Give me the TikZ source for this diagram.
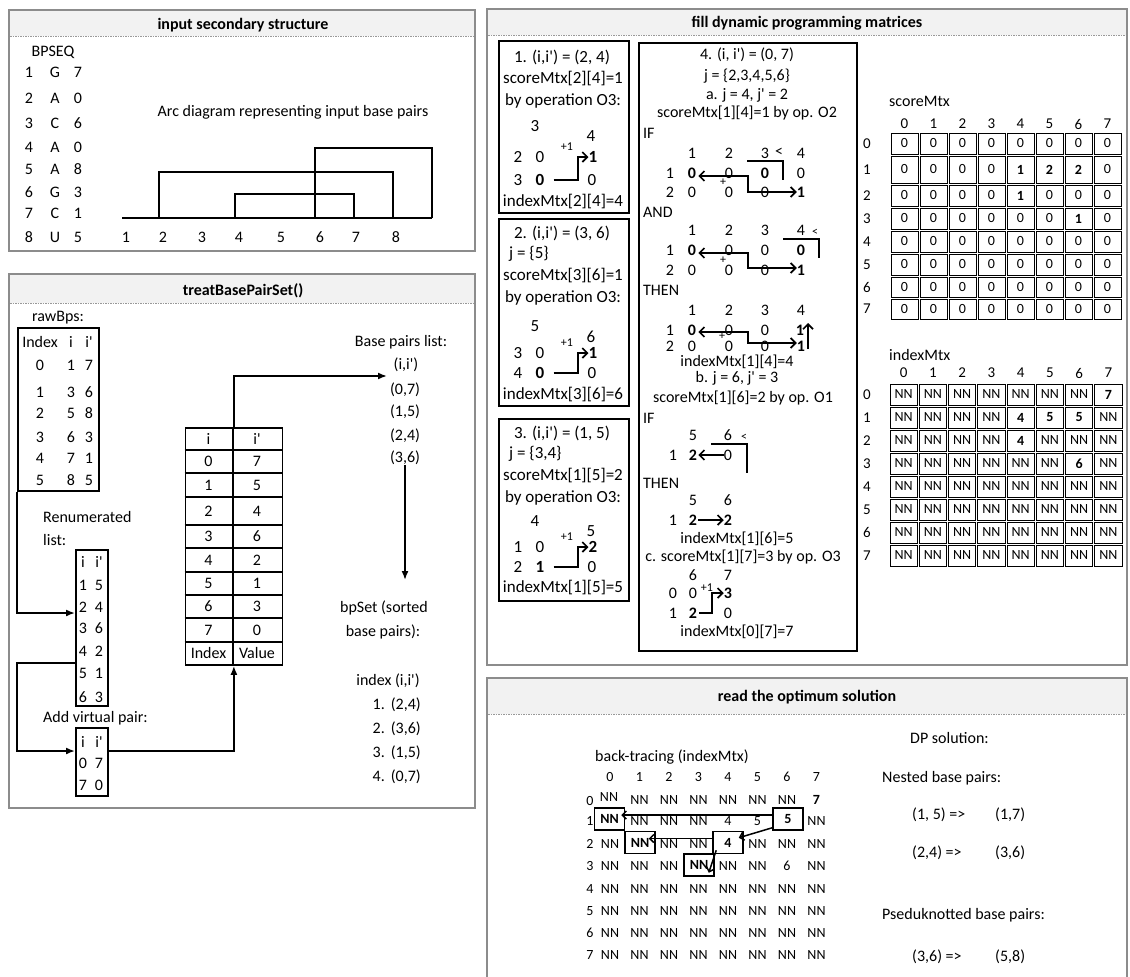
\documentclass[tikz,border=0pt]{standalone}
\usepackage{fontspec}
\setmainfont{Carlito}[Ligatures=TeXOff]
\usetikzlibrary{arrows.meta}
\begin{document}
\begin{tikzpicture}[x=1pt,y=-1pt,
 T/.style={font=\fontsize{16}{19}\selectfont, inner sep=0pt},
 TB/.style={font=\fontsize{16}{19}\selectfont\bfseries, inner sep=0pt},
 U/.style={font=\fontsize{17}{20}\selectfont, inner sep=0pt},
 UB/.style={font=\fontsize{17}{20}\selectfont\bfseries, inner sep=0pt},
 S/.style={font=\fontsize{14}{16}\selectfont, inner sep=0pt},
 SB/.style={font=\fontsize{14}{16}\selectfont\bfseries, inner sep=0pt},
 L/.style={font=\fontsize{15}{17}\selectfont, inner sep=0pt},
 tn/.style={font=\fontsize{12}{13}\selectfont, inner sep=0pt},
 ttl/.style={font=\fontsize{16}{19}\selectfont\bfseries, inner sep=0pt},
 frm/.style={draw=black!45, line width=2.4pt},
 tbar/.style={fill=black!5},
 sepl/.style={draw=black!40, line width=1pt, dash pattern=on 1.5pt off 1pt},
 bx/.style={draw, line width=2pt, inner sep=0pt, anchor=north west},
 ln/.style={line width=1.7pt},
 af/.style={line width=1.7pt, -{Latex[length=9pt,width=7pt]}},
 ab/.style={line width=1.7pt, -{Straight Barb[length=5pt,width=10pt]}},
 abb/.style={line width=1.7pt, {Straight Barb[length=5pt,width=10pt]}-{Straight Barb[length=5pt,width=10pt]}},
 abt/.style={line width=1.5pt, -{Straight Barb[length=4pt,width=8pt]}},
 cell/.style={draw, line width=0.8pt, inner sep=0pt, font=\fontsize{14}{16}\selectfont},
 btb/.style={draw, line width=1.5pt, inner sep=0pt, minimum width=30pt, minimum height=22pt, font=\fontsize{14}{16}\selectfont\bfseries},
]
\useasboundingbox (0,0) rectangle (1130,977);
\fill[white] (0,0) rectangle (1130,977);

%================ Panel 1 =================
\fill[tbar] (10,11) rectangle (474,36);
\draw[sepl] (10,36) -- (474,36);
\draw[frm] (9,10) rectangle (475,251);
\node[ttl] (p1t) at (243,25) {input secondary structure};
\node[T] (bpseq) at (53,52) {BPSEQ};
\foreach \n/\b/\p/\y in {1/G/7/72,2/A/0/98,3/C/6/123,4/A/0/147,5/A/8/169,6/G/3/192,7/C/1/213,8/U/5/237}{
  \node[T] (bn\n) at (29,\y) {\n};
  \node[T] (bb\n) at (55,\y) {\b};
  \node[T] (bp\n) at (78,\y) {\p};
}
\node[T] (arct) at (293,112) {Arc diagram representing input base pairs};
\draw[ln] (122,218) -- (432,218);
\draw[ln] (159,218) |- (393,172) -- (393,218);
\draw[ln] (235,218) |- (354,194) -- (354,218);
\draw[ln] (315,218) |- (432,148) -- (432,218);
\foreach \n/\x in {1/126,2/163,3/202,4/239,5/281,6/320,7/356,8/396}{
  \node[T] (al\n) at (\x,237) {\n};
}

%================ Panel 2 =================
\fill[tbar] (10,275) rectangle (474,303);
\draw[sepl] (10,303) -- (474,303);
\draw[frm] (9,274) rectangle (475,808);
\node[ttl] (p2t) at (243,291) {treatBasePairSet()};

\node[T] (rawl) at (58,318) {rawBps:};
\node[bx, line width=1.8pt, minimum width=81pt, minimum height=163pt] (raw) at (17,327) {};
\node[T] (rh0) at (40,342) {Index};
\node[T] (rh1) at (71,342) {i};
\node[T] (rh2) at (89,342) {i'};
\foreach \k/\a/\b/\y in {0/1/7/365,1/3/6/392,2/5/8/413,3/6/3/437,4/7/1/458,5/8/5/480}{
  \node[T] (rk\k) at (40,\y) {\k};
  \node[T] (ri\k) at (71,\y) {\a};
  \node[T] (rj\k) at (89,\y) {\b};
}

\node[T, anchor=west] (renl1) at (43,517) {Renumerated};
\node[T, anchor=west] (renl2) at (43,540) {list:};
\node[bx, line width=1.8pt, minimum width=32pt, minimum height=156pt] (ren) at (75,549) {};
\node[T] (nh1) at (83,562) {i};
\node[T] (nh2) at (99,562) {i'};
\foreach \k/\a/\b/\y in {1/1/5/585,2/2/4/607,3/3/6/628,4/4/2/651,5/5/1/673,6/6/3/697}{
  \node[T] (ni\k) at (83,\y) {\a};
  \node[T] (nj\k) at (99,\y) {\b};
}

\node[T, anchor=west] (virl) at (43,718) {Add virtual pair:};
\node[bx, line width=1.8pt, minimum width=32pt, minimum height=68pt] (vir) at (75,727) {};
\node[T] (vh1) at (83,742) {i};
\node[T] (vh2) at (99,742) {i'};
\node[T] (vi1) at (83,763) {0};
\node[T] (vj1) at (99,763) {7};
\node[T] (vi2) at (83,785) {7};
\node[T] (vj2) at (99,785) {0};

\coordinate (c1) at (75,613);
\coordinate (c2) at (75,663);
\coordinate (c3) at (75,751);
\draw[af] (raw.south west) |- (c1);
\draw[af] (c2) -- (17,663) |- (c3);

% big table
\node[bx, line width=1.8pt, minimum width=97pt, minimum height=237pt] (tab) at (184.5,427) {};
\foreach \yy in {450,473,497,525,548,572,595,618,642}{
  \draw[line width=1.8pt] (184.5,\yy) -- (281.5,\yy);
}
\draw[line width=1.8pt] (233,427) -- (233,664);
\foreach \k/\a/\b/\y in {h/i/i'/438.5,0/0/7/461.5,1/1/5/485,2/2/4/511,3/3/6/536.5,4/4/2/560,5/5/1/583.5,6/6/3/606.5,7/7/0/630,f/Index/Value/653}{
  \node[T] (ta\k) at (208.5,\y) {\a};
  \node[T] (tb\k) at (257,\y) {\b};
}
\draw[af] (vir.east |- c3) -| (tab.south);

\node[T] (bl0) at (401,342) {Base pairs list:};
\node[T] (bl1) at (406,365) {(i,i')};
\node[T] (bl2) at (405,390) {(0,7)};
\node[T] (bl3) at (405,412) {(1,5)};
\node[T] (bl4) at (405,436) {(2,4)};
\node[T] (bl5) at (405,458) {(3,6)};
\coordinate (c5) at (387,376);
\draw[af] (tab.north) |- (c5);
\coordinate (c6) at (405,580);
\draw[af] (bl5.south) -- (c6);
\node[T] (bs1) at (384,608) {bpSet (sorted};
\node[T] (bs2) at (383,632) {base pairs):};
\node[T] (bs3) at (388,681) {index (i,i')};
\node[T, anchor=east] (bs4) at (421,705) {1.\hspace{6pt}(2,4)};
\node[T, anchor=east] (bs5) at (421,729) {2.\hspace{6pt}(3,6)};
\node[T, anchor=east] (bs6) at (421,753) {3.\hspace{6pt}(1,5)};
\node[T, anchor=east] (bs7) at (421,777) {4.\hspace{6pt}(0,7)};

%================ Panel 3 =================
\fill[tbar] (488,10) rectangle (1126,35);
\draw[sepl] (488,35) -- (1126,35);
\draw[frm] (487,9) rectangle (1127,665);
\node[ttl] (p3t) at (807,23) {fill dynamic programming matrices};

% box 1
\node[bx, minimum width=130pt, minimum height=172pt] (box1) at (498,40) {};
\node[U] (b1t) at (562,57) {1. (i,i') = (2, 4)};
\node[U] (b1s) at (563,79) {scoreMtx[2][4]=1};
\node[U] (b1o3) at (563,101) {by operation O3:};
\node[U] (b1h1) at (535,126) {3};
\node[U] (b1h2) at (591,136) {4};
\node[U] (b1r1) at (518,157) {2};
\node[U] (b1a) at (540,157) {0};
\node[tn] (b1p) at (567,147) {+1};
\node[UB] (b1o) at (593,157) {1};
\node[U] (b1r2) at (518,180) {3};
\node[UB] (b1z) at (540,180) {0};
\node[U] (b1b) at (592,180) {0};
\node[U] (b1i) at (563,202) {indexMtx[2][4]=4};
\coordinate (k1) at (578,157);
\draw[ab] ([xshift=9pt]b1z.east) -| (k1) -- (b1o.west);

% box 2
\node[bx, minimum width=130pt, minimum height=187pt] (box2) at (498,218) {};
\node[U] (b2t) at (562,233) {2. (i,i') = (3, 6)};
\node[U, anchor=west] (b2j) at (509,254) {j = \{5\}};
\node[U] (b2s) at (563,276) {scoreMtx[3][6]=1};
\node[U] (b2o3) at (563,298) {by operation O3:};
\node[U] (b2h1) at (535,326) {5};
\node[U] (b2h2) at (591,337) {6};
\node[U] (b2r1) at (518,353) {3};
\node[U] (b2a) at (540,353) {0};
\node[tn] (b2p) at (567,343) {+1};
\node[UB] (b2o) at (593,353) {1};
\node[U] (b2r2) at (518,373) {4};
\node[UB] (b2z) at (540,373) {0};
\node[U] (b2b) at (592,373) {0};
\node[U] (b2i) at (563,395) {indexMtx[3][6]=6};
\coordinate (k2) at (578,353);
\draw[ab] ([xshift=9pt]b2z.east) -| (k2) -- (b2o.west);

% box 3
\node[bx, minimum width=130pt, minimum height=182pt] (box3) at (498,418) {};
\node[U] (b3t) at (562,433) {3. (i,i') = (1, 5)};
\node[U, anchor=west] (b3j) at (509,454) {j = \{3,4\}};
\node[U] (b3s) at (563,476) {scoreMtx[1][5]=2};
\node[U] (b3o3) at (563,498) {by operation O3:};
\node[U] (b3h1) at (535,521) {4};
\node[U] (b3h2) at (591,531) {5};
\node[U] (b3r1) at (518,547) {1};
\node[U] (b3a) at (540,547) {0};
\node[tn] (b3p) at (567,537) {+1};
\node[UB] (b3o) at (593,547) {2};
\node[U] (b3r2) at (518,567) {2};
\node[UB] (b3z) at (540,567) {1};
\node[U] (b3b) at (592,567) {0};
\node[U] (b3i) at (563,588) {indexMtx[1][5]=5};
\coordinate (k3) at (578,547);
\draw[ab] ([xshift=9pt]b3z.east) -| (k3) -- (b3o.west);

% box 4
\node[bx, minimum width=218pt, minimum height=608pt] (box4) at (638,42) {};
\node[T] (d1) at (747,55) {4. (i, i') = (0, 7)};
\node[T] (d2) at (747,76) {j = \{2,3,4,5,6\}};
\node[T] (d3) at (747,95) {a. j = 4, j' = 2};
\node[T] (d4) at (747,113) {scoreMtx[1][4]=1 by op. O2};
\node[T, anchor=west] (dif) at (643,133) {IF};
% IF block
\node[T] (ih1) at (692,153) {1};
\node[T] (ih2) at (729,153) {2};
\node[T] (ih3) at (765,153) {3};
\node[T] (ihl) at (779,152) {<};
\node[T] (ih4) at (801,153) {4};
\node[T] (i1a) at (670,173) {1};
\node[TB] (i1b) at (692,173) {0};
\node[T] (i1c) at (729,173) {0};
\node[TB] (i1d) at (765,173) {0};
\node[T] (i1e) at (801,173) {0};
\node[T] (i2a) at (670,192) {2};
\node[T] (i2b) at (692,192) {0};
\node[tn] (i2p) at (723,182) {+};
\node[T] (i2c) at (729,192) {0};
\node[T] (i2d) at (765,192) {0};
\node[TB] (i2e) at (801,192) {1};
\draw[ln] (747,161) -| (783,180);
\coordinate (ik) at (748,176);
\draw[abb] ([xshift=2pt,yshift=-3pt]i1b.east) -- (ik) |- (i2e.west);
% AND block
\node[T, anchor=west] (dand) at (643,212) {AND};
\node[T] (ah1) at (692,230) {1};
\node[T] (ah2) at (729,230) {2};
\node[T] (ah3) at (765,230) {3};
\node[T] (ah4) at (801,230) {4};
\node[tn] (ahl) at (815,232) {<};
\node[T] (a1a) at (670,250) {1};
\node[TB] (a1b) at (692,250) {0};
\node[T] (a1c) at (729,250) {0};
\node[T] (a1d) at (765,250) {0};
\node[TB] (a1e) at (801,250) {0};
\node[T] (a2a) at (670,270) {2};
\node[T] (a2b) at (692,270) {0};
\node[tn] (a2p) at (723,260) {+};
\node[T] (a2c) at (729,270) {0};
\node[T] (a2d) at (765,270) {0};
\node[TB] (a2e) at (801,270) {1};
\draw[ln] (783,239) -| (819,258);
\coordinate (ak) at (748,253);
\draw[abb] ([xshift=2pt,yshift=-3pt]a1b.east) -- (ak) |- ([yshift=2pt]a2e.west);
% THEN block
\node[T, anchor=west] (dthen) at (643,290) {THEN};
\node[T] (th1) at (692,310) {1};
\node[T] (th2) at (729,310) {2};
\node[T] (th3) at (765,310) {3};
\node[T] (th4) at (801,310) {4};
\node[T] (t1a) at (670,330) {1};
\node[TB] (t1b) at (692,330) {0};
\node[T] (t1c) at (729,330) {0};
\node[T] (t1d) at (765,330) {0};
\node[TB] (t1e) at (800,330) {1};
\node[T] (t2a) at (670,346) {2};
\node[T] (t2b) at (692,346) {0};
\node[tn] (t2p) at (722,336) {+};
\node[T] (t2c) at (729,346) {0};
\node[T] (t2d) at (765,346) {0};
\node[TB] (t2e) at (801,346) {1};
\coordinate (tk) at (748,332);
\draw[abb] ([xshift=2pt,yshift=-2pt]t1b.east) -- (tk) |- ([yshift=3pt]t2e.west);
\coordinate (u1) at (808,349);
\coordinate (u2) at (808,323);
\draw[ab] (u1) -- (u2);
\node[T] (d5) at (737,362) {indexMtx[1][4]=4};
\node[T] (d6) at (737,378) {b. j = 6, j' = 3};
\node[T] (d7) at (743,398) {scoreMtx[1][6]=2 by op. O1};
\node[T, anchor=west] (dif2) at (643,418) {IF};
\node[T] (jh1) at (693,435) {5};
\node[T] (jh2) at (728,435) {6};
\node[tn] (jhl) at (744,437) {<};
\node[T] (j1a) at (673,455) {1};
\node[TB] (j1b) at (693,455) {2};
\node[T] (j1c) at (728,455) {0};
\draw[ln] (711,444) -| (747,473);
\draw[ab] (j1c.west) -- ([xshift=1pt]j1b.east);
\node[T, anchor=west] (dthen2) at (643,483) {THEN};
\node[T] (kh1) at (693,500) {5};
\node[T] (kh2) at (728,500) {6};
\node[T] (k1a) at (673,520) {1};
\node[TB] (k1b) at (693,520) {2};
\node[TB] (k1c) at (728,520) {2};
\draw[ab] ([xshift=1pt]k1b.east) -- (k1c.west);
\node[T] (d8) at (737,539) {indexMtx[1][6]=5};
\node[T] (d9) at (743,557) {c. scoreMtx[1][7]=3 by op. O3};
\node[T] (mh1) at (693,575) {6};
\node[T] (mh2) at (728,575) {7};
\node[T] (m1a) at (673,593) {0};
\node[T] (m1b) at (693,593) {0};
\node[tn] (m1p) at (707,588) {+1};
\node[TB] (m1d) at (728,593) {3};
\node[T] (m2a) at (673,613) {1};
\node[TB] (m2b) at (693,613) {2};
\node[T] (m2d) at (728,613) {0};
\coordinate (mk) at (712,593);
\draw[ab] ([xshift=2pt]m2b.east) -| (mk) -- (m1d.west);
\node[T] (d10) at (737,632) {indexMtx[0][7]=7};

% scoreMtx
\node[T, anchor=west] (scl) at (889,101) {scoreMtx};
\foreach \c in {0,...,7}{
  \node[L] (sch\c) at ({904.5+29*\c},124) {\c};
}
\foreach \r/\y/\h/\vals in {
  0/143.5/21/{0,0,0,0,0,0,0,0},
  1/169.5/27/{0,0,0,0,\textbf{1},\textbf{2},\textbf{2},0},
  2/195.5/21/{0,0,0,0,\textbf{1},0,0,0},
  3/218.5/21/{0,0,0,0,0,0,\textbf{1},0},
  4/241.5/21/{0,0,0,0,0,0,0,0},
  5/264.5/21/{0,0,0,0,0,0,0,0},
  6/287/20/{0,0,0,0,0,0,0,0},
  7/309/20/{0,0,0,0,0,0,0,0}}{
  \node[L] (srl\r) at (867,\y) {\r};
  \foreach \v [count=\c from 0] in \vals {
    \node[cell, minimum width=27pt, minimum height=\h pt] (s-\r-\c) at ({904.5+29*\c},\y) {\v};
  }
}

% indexMtx
\node[T, anchor=west] (ixl) at (889,355) {indexMtx};
\foreach \c in {0,...,7}{
  \node[L] (ixh\c) at ({903.6+29.25*\c},373) {\c};
}
\foreach \r/\vals in {
  0/{NN,NN,NN,NN,NN,NN,NN,\textbf{7}},
  1/{NN,NN,NN,NN,\textbf{4},\textbf{5},\textbf{5},NN},
  2/{NN,NN,NN,NN,\textbf{4},NN,NN,NN},
  3/{NN,NN,NN,NN,NN,NN,\textbf{6},NN},
  4/{NN,NN,NN,NN,NN,NN,NN,NN},
  5/{NN,NN,NN,NN,NN,NN,NN,NN},
  6/{NN,NN,NN,NN,NN,NN,NN,NN},
  7/{NN,NN,NN,NN,NN,NN,NN,NN}}{
  \node[L] (ixr\r) at (867,{394.5+23*\r}) {\r};
  \foreach \v [count=\c from 0] in \vals {
    \node[cell, minimum width=27.25pt, minimum height=21pt] (x-\r-\c) at ({903.6+29.25*\c},{394.5+23*\r}) {\v};
  }
}

%================ Panel 4 =================
\fill[tbar] (488,679) rectangle (1126,714);
\draw[sepl] (488,714) -- (1126,714);
\draw[frm] (487,678) rectangle (1127,990);
\node[ttl] (p4t) at (807,697) {read the optimum solution};

\node[T, anchor=west] (btl) at (595,757) {back-tracing (indexMtx)};
\foreach \c in {0,...,7}{
  \node[S] (bth\c) at ({610+29.5*\c},777) {\c};
}
% row 0
\node[S] (btr0) at (590,801) {0};
\node[S] (bt00) at (609,797) {NN};
\foreach \c in {1,...,6}{ \node[S] (bt0\c) at ({610+29.5*\c},800) {NN}; }
\node[SB] (bt07) at (816.5,800) {7};
% row 1
\node[S] (btr1) at (590,821) {1};
\node[btb] (bx10) at (609.5,819) {NN};
\node[S] (bt11) at (639.5,821) {NN};
\node[S] (bt12) at (669,821) {NN};
\node[S] (bt13) at (698.5,821) {NN};
\node[S] (bt14) at (728,821) {4};
\node[S] (bt15) at (757.5,821) {5};
\node[btb] (bx16) at (788,819) {5};
\node[S] (bt17) at (816.5,821) {NN};
% row 2
\node[S] (btr2) at (590,844) {2};
\node[S] (bt20) at (610,844) {NN};
\node[btb] (bx21) at (640,842.5) {NN};
\node[S] (bt22) at (669,844) {NN};
\node[S] (bt23) at (698.5,844) {NN};
\node[btb] (bx24) at (728,842.5) {4};
\node[S] (bt25) at (757.5,844) {NN};
\node[S] (bt26) at (787,844) {NN};
\node[S] (bt27) at (816.5,844) {NN};
% row 3
\node[S] (btr3) at (590,866) {3};
\node[S] (bt30) at (610,866) {NN};
\node[S] (bt31) at (639.5,866) {NN};
\node[S] (bt32) at (669,866) {NN};
\node[btb] (bx33) at (699,865) {NN};
\node[S] (bt34) at (728,866) {NN};
\node[S] (bt35) at (757.5,866) {NN};
\node[S] (bt36) at (787,866) {6};
\node[S] (bt37) at (816.5,866) {NN};
% rows 4-7
\foreach \r/\y in {4/889,5/911,6/933,7/955}{
  \node[S] (btr\r) at (590,\y) {\r};
  \foreach \c in {0,...,7}{ \node[S] (bt\r\c) at ({610+29.5*\c},\y) {NN}; }
}
\draw[abt] ([yshift=4pt]bx16.west) -- ([xshift=-4pt,yshift=4pt]bx10.east);
\draw[abt] ([yshift=3pt]bx16.south west) -- ([xshift=-5pt,yshift=-7pt]bx24.north east);
\draw[abt] ([yshift=4pt]bx24.west) -- ([xshift=-7pt,yshift=4pt]bx21.east);
\draw[abt] ([xshift=4pt,yshift=4pt]bx24.south west) -- ([xshift=-6pt,yshift=4pt]bx33.south east);

\node[T, anchor=west] (dps) at (910,738) {DP solution:};
\node[T, anchor=west] (nbp) at (882,778) {Nested base pairs:};
\node[T, anchor=west] (n1a) at (912,815) {(1, 5) =>};
\node[T, anchor=west] (n1b) at (995,815) {(1,7)};
\node[T, anchor=west] (n2a) at (912,853) {(2,4) =>};
\node[T, anchor=west] (n2b) at (995,853) {(3,6)};
\node[T, anchor=west] (pbp) at (882,915) {Pseduknotted base pairs:};
\node[T, anchor=west] (p1a) at (912,957) {(3,6) =>};
\node[T, anchor=west] (p1b) at (995,957) {(5,8)};
\end{tikzpicture}
\end{document}
